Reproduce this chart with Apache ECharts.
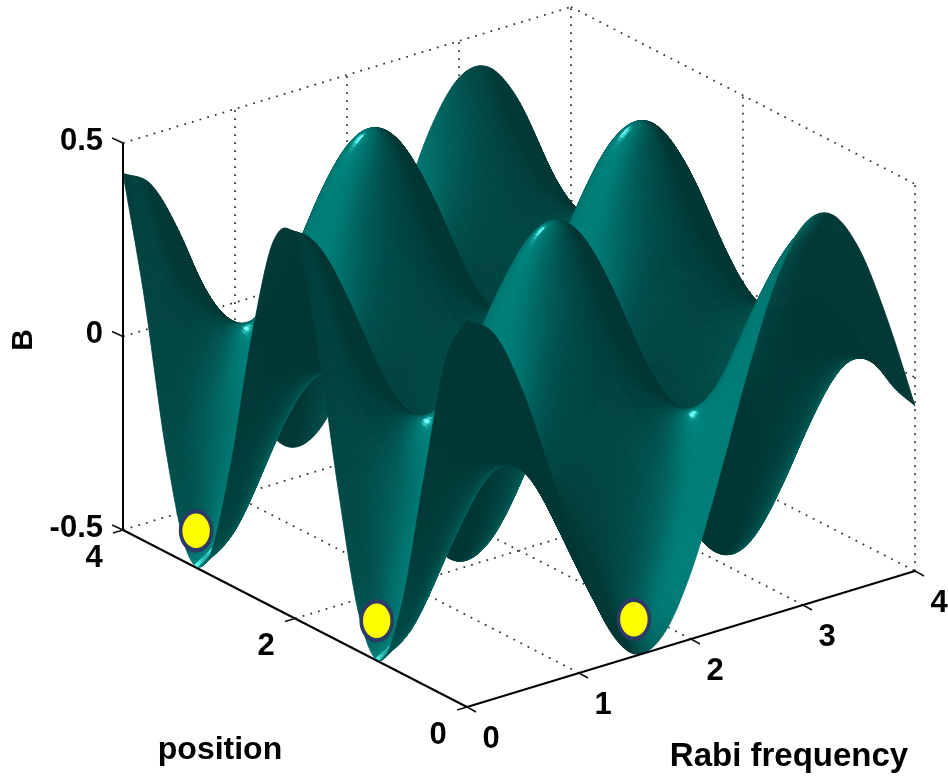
<!DOCTYPE html>
<html><head><meta charset="utf-8">
<style>html,body{margin:0;padding:0;background:#fff}#c{width:948px;height:782px}</style>
<script src="https://cdn.jsdelivr.net/npm/echarts@6/dist/echarts.min.js"></script>
</head><body><div id="c"></div>
<script>
// ---- data ----
const rabiGrid = [0,.25,.5,.75,1,1.25,1.5,1.75,2,2.25,2.5,2.75,3,3.25,3.5,3.75,4];
const positionGrid = [0,.25,.5,.75,1,1.25,1.5,1.75,2,2.25,2.5,2.75,3,3.25,3.5,3.75,4];
const surfaceB = [
[.500,.439,.270,.035,-.208,-.400,-.495,-.468,-.327,-.105,.142,.354,.480,.488,.377,.174,-.073],
[.366,.321,.198,.026,-.152,-.293,-.362,-.343,-.239,-.077,.104,.259,.351,.358,.276,.127,-.053],
[.035,.031,.019,.002,-.015,-.028,-.035,-.033,-.023,-.007,.010,.025,.034,.034,.026,.012,-.005],
[-.314,-.276,-.170,-.022,.131,.252,.311,.294,.205,.066,-.089,-.223,-.301,-.307,-.237,-.109,.046],
[-.495,-.435,-.267,-.035,.206,.396,.490,.463,.324,.104,-.141,-.351,-.475,-.484,-.373,-.172,.072],
[-.410,-.360,-.221,-.029,.171,.328,.406,.384,.268,.087,-.116,-.291,-.394,-.401,-.309,-.142,.060],
[-.105,-.092,-.057,-.007,.044,.084,.104,.098,.069,.022,-.030,-.074,-.101,-.103,-.079,-.036,.015],
[.256,.225,.138,.018,-.106,-.205,-.253,-.240,-.167,-.054,.073,.182,.246,.250,.193,.089,-.037],
[.480,.421,.259,.034,-.200,-.384,-.475,-.449,-.314,-.101,.136,.340,.461,.469,.362,.167,-.070],
[.447,.392,.241,.032,-.186,-.358,-.443,-.418,-.292,-.094,.127,.317,.429,.437,.337,.155,-.065],
[.174,.153,.094,.012,-.072,-.139,-.172,-.163,-.114,-.037,.049,.123,.167,.170,.131,.060,-.025],
[-.193,-.169,-.104,-.014,.080,.155,.191,.181,.126,.041,-.055,-.137,-.185,-.189,-.146,-.067,.028],
[-.456,-.400,-.246,-.032,.190,.365,.451,.427,.298,.096,-.130,-.323,-.438,-.446,-.344,-.158,.067],
[-.474,-.416,-.256,-.034,.197,.380,.469,.444,.310,.100,-.135,-.336,-.455,-.463,-.357,-.164,.069],
[-.238,-.209,-.129,-.017,.099,.191,.236,.223,.156,.050,-.068,-.169,-.228,-.233,-.179,-.083,.035],
[.126,.111,.068,.009,-.052,-.101,-.125,-.118,-.082,-.027,.036,.089,.121,.123,.095,.044,-.018],
[.422,.371,.228,.030,-.176,-.338,-.418,-.395,-.276,-.089,.120,.299,.405,.412,.318,.146,-.062]
];
const rabiTicks = [0,1,2,3,4];
const positionTicks = [0,2,4];
const bTicks = [-0.5,0,0.5];
const markerRabi = [0,0,1.49];
const markerPosition = [3.15,1.05,0];
const markerB = [-0.405,-0.397,-0.404];

// ---- view ----
const O=[467,707], UR=[112,-34], UP=[-86,-44.25], UZ=-387, Bmin=-0.5;
const project=(r,p,b)=>[O[0]+UR[0]*r+UP[0]*p, O[1]+UR[1]*r+UP[1]*p+UZ*(b-Bmin)];
const SUB=12;
const cr=(a,b,c,d,t)=>0.5*(2*b+(c-a)*t+(2*a-5*b+4*c-d)*t*t+(3*b-a-3*c+d)*t*t*t);
const n=surfaceB.length, m=surfaceB[0].length;
const g=(i,j)=>{ // edge-extended read of the table
  const ii=Math.max(0,Math.min(n-1,i)), jj=Math.max(0,Math.min(m-1,j));
  let v=surfaceB[ii][jj];
  if(i<0) v=2*surfaceB[0][jj]-surfaceB[1][jj];
  if(i>n-1) v=2*surfaceB[n-1][jj]-surfaceB[n-2][jj];
  if(j<0) v=2*surfaceB[ii][0]-surfaceB[ii][1];
  if(j>m-1) v=2*surfaceB[ii][m-1]-surfaceB[ii][m-2];
  return v;
};
const sample=(u,v)=>{
  const i=Math.min(n-2,Math.floor(u)), j=Math.min(m-2,Math.floor(v)), tu=u-i, tv=v-j, col=[];
  for(let k=-1;k<=2;k++) col.push(cr(g(i+k,j-1),g(i+k,j),g(i+k,j+1),g(i+k,j+2),tv));
  return cr(col[0],col[1],col[2],col[3],tu);
};
const NN=(n-1)*SUB, MM=(m-1)*SUB, Z=[];
for(let i=0;i<=NN;i++){Z.push([]);for(let j=0;j<=MM;j++)Z[i].push(sample(i/SUB,j/SUB));}
const stepP=(positionGrid[n-1]-positionGrid[0])/NN, stepR=(rabiGrid[m-1]-rabiGrid[0])/MM;
const norm=v=>{const l=Math.hypot(v[0],v[1],v[2]);return v.map(x=>x/l)};
const dot=(a,b)=>a[0]*b[0]+a[1]*b[1]+a[2]*b[2];
const V=norm([-.52,-.68,.49]), L=norm([-.8,-.08,.6]), H=norm([-.68,-.03,.73]);
const quads=[];
for(let i=NN-1;i>=0;i--)for(let j=MM-1;j>=0;j--){
  const z00=Z[i][j],z01=Z[i][j+1],z10=Z[i+1][j],z11=Z[i+1][j+1];
  const dR=((z01-z00)+(z11-z10))/2/(stepR/4), dP=((z10-z00)+(z11-z01))/2/(stepP/4);
  const N=norm([-dR,-dP,1]);
  const front=dot(N,V)>=0;
  const I=.42+.58*Math.max(0,dot(N,L));
  const S=front?Math.pow(Math.max(0,dot(N,H)),70)*.8:0;
  const c=[0,132,126], col='rgb('+[0,1,2].map(k=>Math.min(255,Math.round(c[k]*I+S*[190,255,255][k]))).join(',')+')';
  const P=(a,b)=>project(b*stepR,a*stepP,Z[a][b]);
  quads.push({pts:[P(i,j),P(i,j+1),P(i+1,j+1),P(i+1,j)],col});
}
// ---- box ----
const dash={stroke:'#3a3a3a',lineWidth:1.8,lineDash:[1.8,6.2]};
const solid={stroke:'#000',lineWidth:2};
const boxSegs=[];
const seg=(a,b,s)=>boxSegs.push({a,b,s});
const R4=4,P4=4,bT=0.5,bB=-0.5;
rabiTicks.slice(1,-1).forEach(r=>{seg([r,0,bB],[r,P4,bB],dash);seg([r,P4,bB],[r,P4,bT],dash);});
positionTicks.slice(1,-1).forEach(p=>{seg([0,p,bB],[R4,p,bB],dash);seg([R4,p,bB],[R4,p,bT],dash);});
seg([0,P4,bB],[R4,P4,bB],dash);seg([R4,P4,bB],[R4,0,bB],dash);
seg([0,P4,bT],[R4,P4,bT],dash);seg([R4,P4,bT],[R4,0,bT],dash);
seg([R4,P4,bB],[R4,P4,bT],dash);seg([R4,0,bB],[R4,0,bT],dash);
seg([0,P4,0],[R4,P4,0],dash);seg([R4,P4,0],[R4,0,0],dash);
const axisSegs=[];
const aseg=(a,b)=>axisSegs.push({a,b,s:solid});
aseg([0,0,bB],[R4,0,bB]);aseg([0,0,bB],[0,P4,bB]);aseg([0,P4,bB],[0,P4,bT]);
const tickSegs=[];
rabiTicks.forEach(r=>tickSegs.push({from:project(r,0,bB),dx:9,dy:5}));
positionTicks.forEach(p=>tickSegs.push({from:project(0,p,bB),dx:-10,dy:3}));
bTicks.forEach(b=>tickSegs.push({from:project(0,P4,b),dx:-11,dy:-5}));
const font=s=>'bold '+s+'px "Liberation Sans", Arial, sans-serif';
const labels=[];
rabiTicks.forEach(r=>{const q=project(r,0,bB);labels.push({t:String(r),x:q[0]+24,y:q[1]+32,s:31});});
positionTicks.forEach(p=>{const q=project(0,p,bB);labels.push({t:String(p),x:q[0]-29,y:q[1]+28,s:31});});
bTicks.forEach(b=>{const q=project(0,P4,b);labels.push({t:String(b),x:q[0]-20,y:q[1]-2,s:31,align:'right'});});
labels.push({t:'position',x:220,y:750,s:32});
labels.push({t:'Rabi frequency',x:789,y:757,s:33});
labels.push({t:'B',x:24,y:340,s:30,rot:Math.PI/2});

const lineItem=(list)=>(params,api)=>{
  const d=list[api.value(0)];
  const A=api.coord(project(...d.a)),B=api.coord(project(...d.b));
  return {type:'line',shape:{x1:A[0],y1:A[1],x2:B[0],y2:B[1]},style:Object.assign({fill:null},d.s),silent:true};
};
const idx=l=>l.map((_,i)=>[i]);
const chart=echarts.init(document.getElementById('c'),null,{renderer:'canvas'});
chart.setOption({
  animation:false,backgroundColor:'#fff',
  grid:{left:0,right:0,top:0,bottom:0},
  xAxis:{type:'value',min:0,max:948,show:false},
  yAxis:{type:'value',min:0,max:782,inverse:true,show:false},
  tooltip:{show:false},
  series:[
   {type:'custom',name:'box',z:1,progressive:0,silent:true,clip:false,data:idx(boxSegs),encode:{x:0},renderItem:lineItem(boxSegs)},
   {type:'custom',name:'B surface',z:2,progressive:0,silent:true,clip:false,data:idx(quads),encode:{x:0},
    renderItem:(params,api)=>{const q=quads[api.value(0)];
      return {type:'polygon',shape:{points:q.pts.map(p=>api.coord(p))},style:{fill:q.col,stroke:q.col,lineWidth:.8},silent:true};}},
   {type:'custom',name:'axes',z:3,progressive:0,silent:true,clip:false,data:idx(axisSegs),encode:{x:0},renderItem:lineItem(axisSegs)},
   {type:'custom',name:'ticks',z:3,progressive:0,silent:true,clip:false,data:idx(tickSegs),encode:{x:0},
    renderItem:(params,api)=>{const d=tickSegs[api.value(0)],A=api.coord(d.from);
      return {type:'line',shape:{x1:A[0],y1:A[1],x2:A[0]+d.dx,y2:A[1]+d.dy},style:{stroke:'#111',lineWidth:1.5,fill:null},silent:true};}},
   {type:'scatter',name:'minima',z:4,silent:true,symbol:'circle',symbolSize:[31,39],
    itemStyle:{color:'#ffff00',borderColor:'#2b3a66',borderWidth:4,opacity:1},
    data:markerRabi.map((r,i)=>project(r,markerPosition[i],markerB[i]))},
   {type:'custom',name:'labels',z:5,progressive:0,silent:true,clip:false,data:idx(labels),encode:{x:0},
    renderItem:(params,api)=>{const d=labels[api.value(0)],A=api.coord([d.x,d.y]);
      return {type:'text',x:A[0],y:A[1],rotation:d.rot||0,style:{text:d.t,font:font(d.s),fill:'#000',textAlign:d.align||'center',textVerticalAlign:'middle'},silent:true};}}
  ]
});
</script></body></html>
